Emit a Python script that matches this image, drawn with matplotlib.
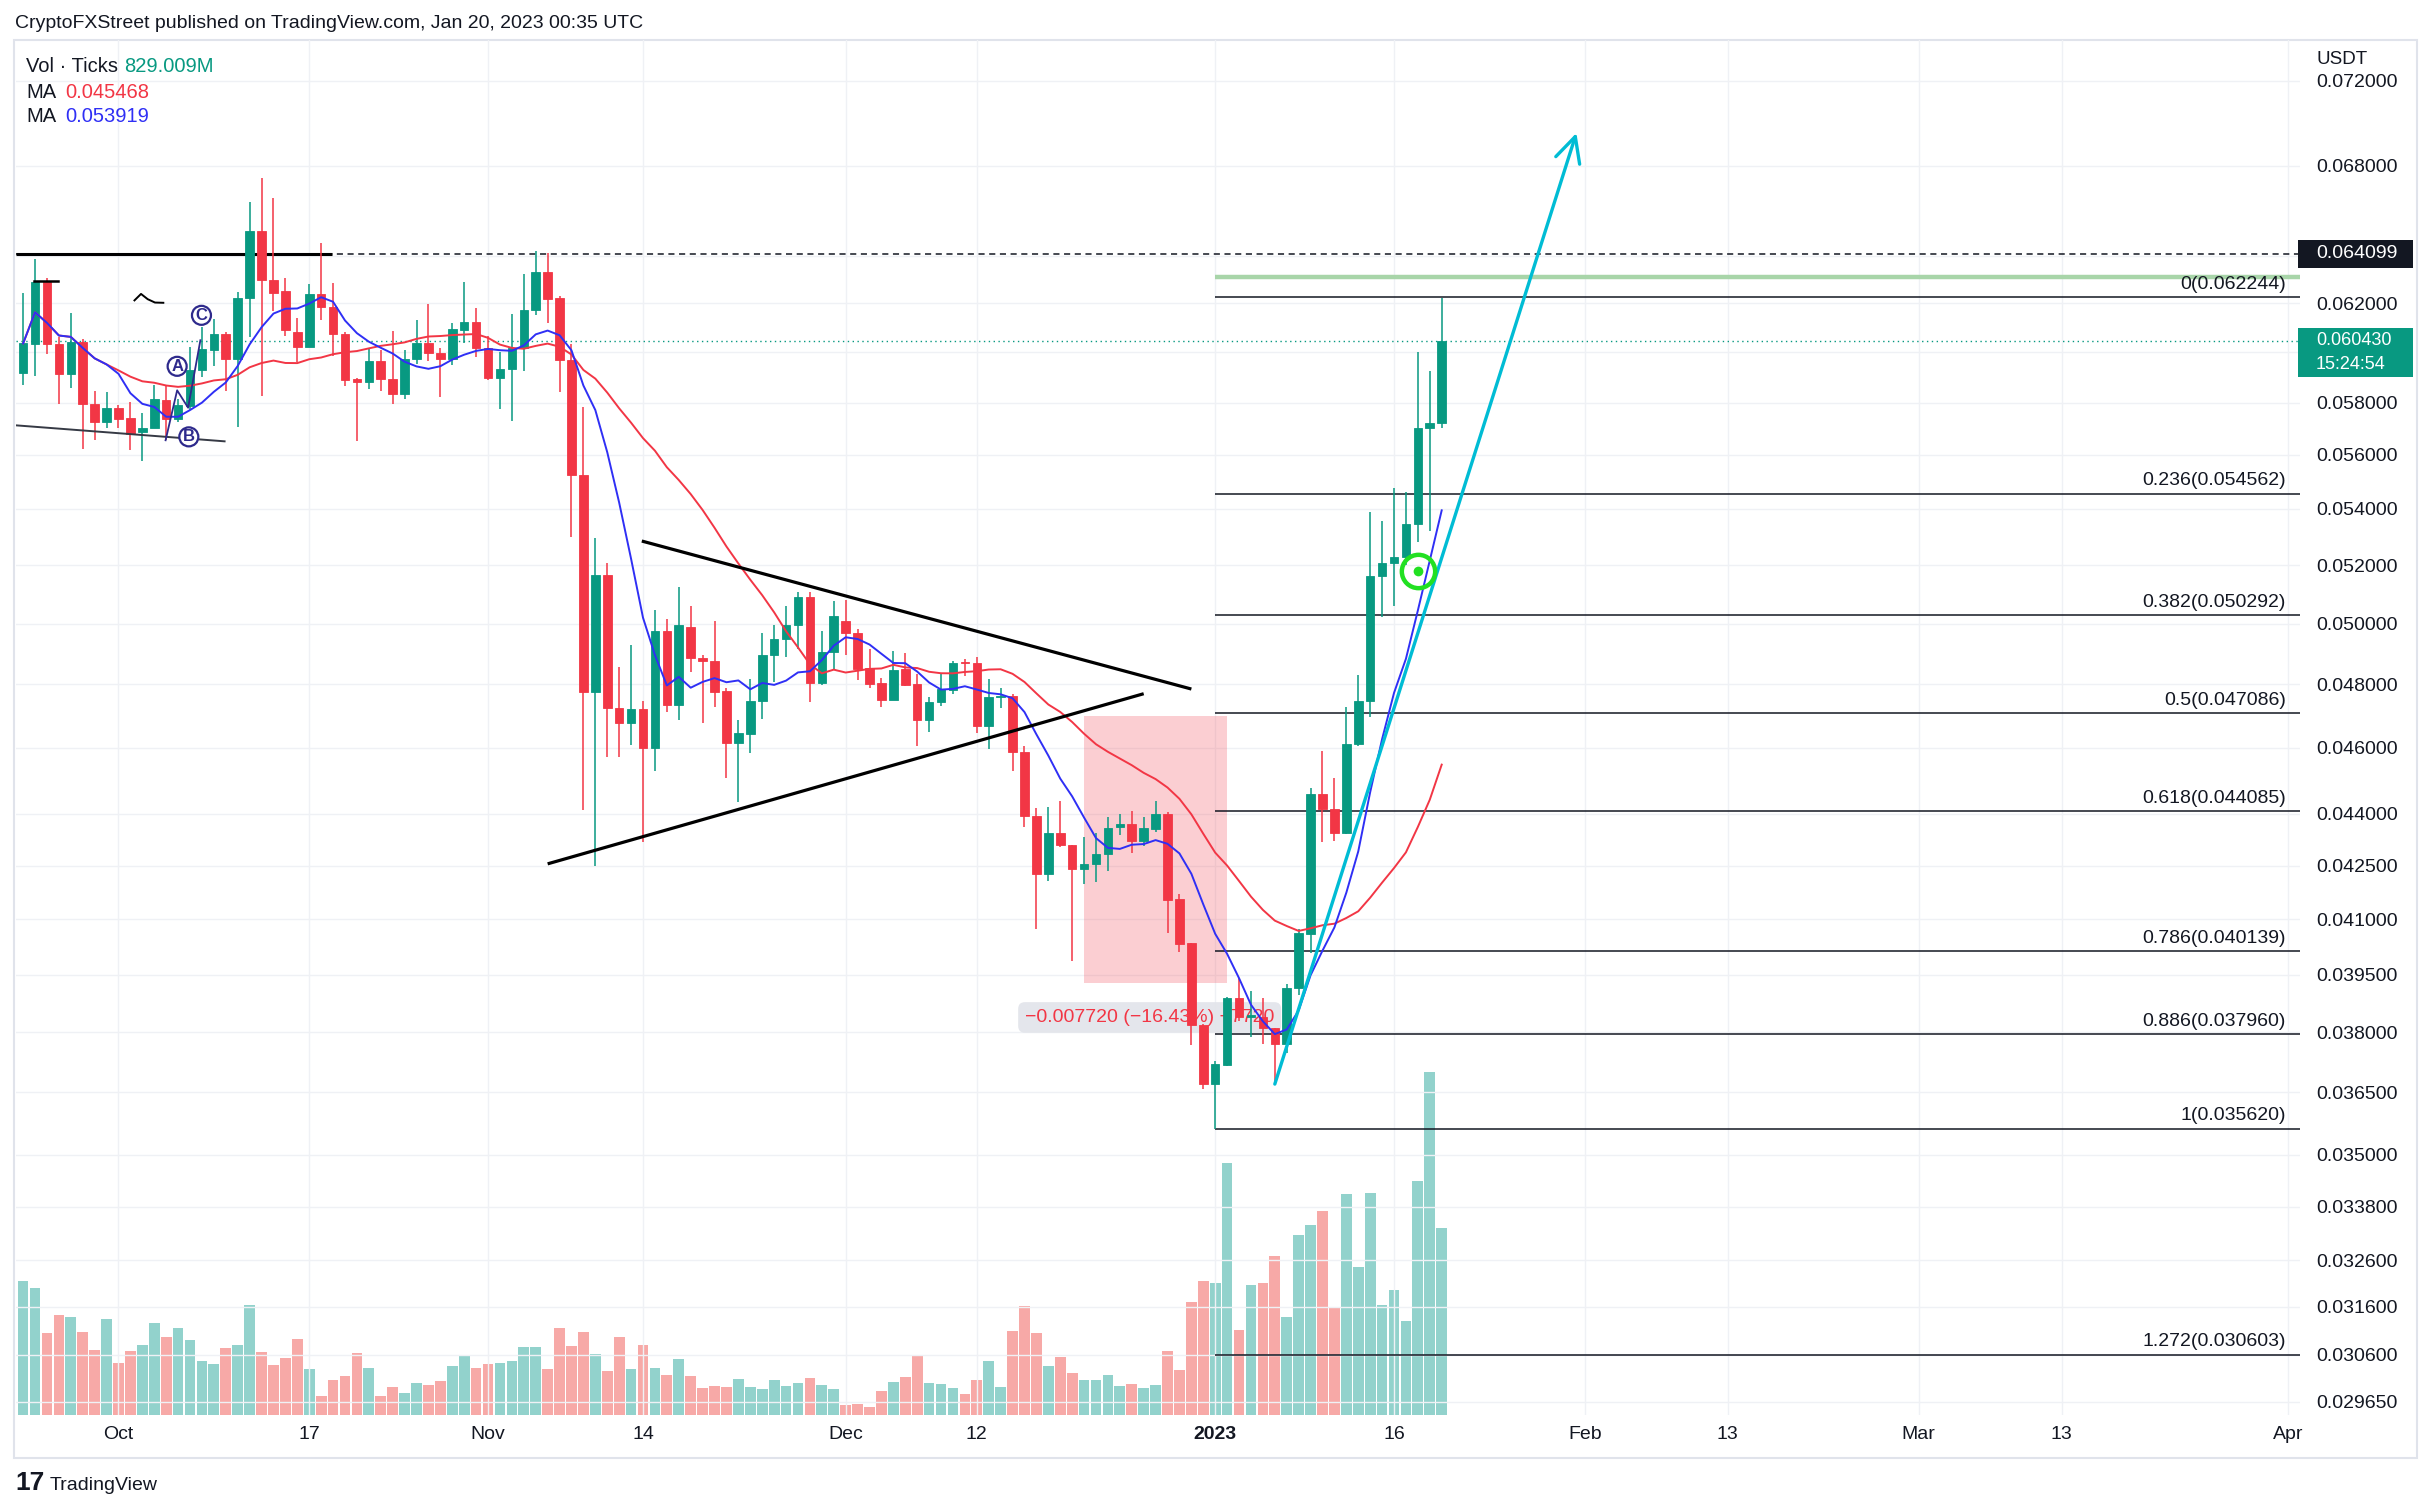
import numpy as np
import pandas as pd
import matplotlib
matplotlib.use("Agg")
import matplotlib.pyplot as plt
from matplotlib.patches import Rectangle
from matplotlib.ticker import FixedLocator, NullLocator, FuncFormatter

plt.rcParams['font.family'] = ['Liberation Sans', 'DejaVu Sans']

W, H = 2432, 1509
ORIGIN = pd.Timestamp("2022-10-01")

# daily candles, Sep 23 2022 .. Jan 20 2023
dates = pd.date_range("2022-09-23", "2023-01-20", freq="D")

opens = [0.05916, 0.06032, 0.06290, 0.06032, 0.05912, 0.06039, 0.05795, 0.05723,
         0.05780, 0.05742, 0.05687, 0.05702, 0.05811, 0.05736, 0.05787, 0.05930, 0.06008, 0.06075,
         0.05972, 0.06222, 0.06508, 0.06299, 0.06252, 0.06082, 0.06021, 0.06237, 0.06185, 0.06072,
         0.05892, 0.05881, 0.05964, 0.05894, 0.05835, 0.05974, 0.06035, 0.05995, 0.05971, 0.06088,
         0.06121,
         0.06018, 0.05898, 0.05933, 0.06015, 0.06170, 0.06330, 0.06222, 0.05969, 0.05525, 0.04775,
         0.05166, 0.04726, 0.04677, 0.04722, 0.04598, 0.04975, 0.04734, 0.04987, 0.04886, 0.04877,
         0.04778, 0.04615, 0.04643, 0.04746, 0.04897, 0.04947, 0.04996, 0.05089, 0.04804, 0.04906,
         0.05009, 0.04967, 0.04854, 0.04803, 0.04751, 0.04851, 0.04800, 0.04688, 0.04743, 0.04783,
         0.04872, 0.04870, 0.04667, 0.04759, 0.04764, 0.04586, 0.04393, 0.04226, 0.04344, 0.04308,
         0.04239, 0.04255, 0.04282, 0.04361, 0.04369, 0.04322, 0.04357, 0.04400, 0.04155, 0.04035,
         0.03819,
         0.03669, 0.03718, 0.03888, 0.03840, 0.03840, 0.03810, 0.03769, 0.03914, 0.04060, 0.04458,
         0.04415, 0.04345, 0.04613, 0.04748, 0.05161, 0.05207, 0.05228, 0.05345, 0.05702, 0.05722]
highs = [0.06241, 0.06389, 0.06308, 0.06061, 0.06160, 0.06051, 0.05845, 0.05840,
         0.05790, 0.05802, 0.05761, 0.05870, 0.05870, 0.05815, 0.06019, 0.06102, 0.06133, 0.06080,
         0.06248, 0.06637, 0.06742, 0.06656, 0.06308, 0.06140, 0.06279, 0.06454, 0.06283, 0.06082,
         0.05895, 0.06011, 0.06008, 0.06086, 0.06008, 0.06132, 0.06195, 0.06017, 0.06118, 0.06289,
         0.06179,
         0.06065, 0.05999, 0.06156, 0.06325, 0.06421, 0.06412, 0.06230, 0.06032, 0.05781, 0.05295,
         0.05209, 0.04857, 0.04927, 0.04746, 0.05047, 0.05017, 0.05125, 0.05058, 0.04897, 0.05009,
         0.04789, 0.04688, 0.04817, 0.04968, 0.04996, 0.05058, 0.05106, 0.05106, 0.04975, 0.05078,
         0.05079, 0.04983, 0.04917, 0.04819, 0.04910, 0.04903, 0.04832, 0.04759, 0.04832, 0.04875,
         0.04884, 0.04889, 0.04816, 0.04788, 0.04769, 0.04606, 0.04417, 0.04422, 0.04439, 0.04310,
         0.04331, 0.04344, 0.04391, 0.04400, 0.04410, 0.04390, 0.04439, 0.04406, 0.04169, 0.04035,
         0.03820,
         0.03727, 0.03890, 0.03941, 0.03906, 0.03889, 0.03812, 0.03924, 0.04074, 0.04477, 0.04591,
         0.04509, 0.04727, 0.04829, 0.05389, 0.05358, 0.05478, 0.05462, 0.05999, 0.05924, 0.06224]
lows = [0.05868, 0.05904, 0.05991, 0.05793, 0.05856, 0.05621, 0.05655, 0.05700,
        0.05700, 0.05617, 0.05576, 0.05700, 0.05655, 0.05723, 0.05770, 0.05901, 0.05944, 0.05845,
        0.05706, 0.06061, 0.05824, 0.06167, 0.06064, 0.05960, 0.06021, 0.06129, 0.05986, 0.05864,
        0.05651, 0.05852, 0.05844, 0.05793, 0.05813, 0.05951, 0.05963, 0.05822, 0.05949, 0.06037,
        0.05979,
        0.05890, 0.05776, 0.05730, 0.05925, 0.06153, 0.06120, 0.05843, 0.05299, 0.04412, 0.04249,
        0.04570, 0.04573, 0.04608, 0.04319, 0.04529, 0.04711, 0.04688, 0.04840, 0.04677, 0.04728,
        0.04508, 0.04436, 0.04585, 0.04690, 0.04807, 0.04890, 0.04917, 0.04742, 0.04798, 0.04850,
        0.04897, 0.04814, 0.04788, 0.04729, 0.04751, 0.04795, 0.04606, 0.04649, 0.04730, 0.04770,
        0.04828, 0.04646, 0.04597, 0.04724, 0.04528, 0.04362, 0.04073, 0.04207, 0.04304, 0.03985,
        0.04199, 0.04203, 0.04236, 0.04337, 0.04285, 0.04305, 0.04347, 0.04062, 0.04010, 0.03767,
        0.03659,
        0.03562, 0.03716, 0.03828, 0.03787, 0.03769, 0.03674, 0.03748, 0.03897, 0.04009, 0.04318,
        0.04321, 0.04342, 0.04606, 0.04697, 0.05023, 0.05059, 0.05200, 0.05282, 0.05321, 0.05702]
closes = [0.06035, 0.06290, 0.06032, 0.05912, 0.06039, 0.05793, 0.05723, 0.05780,
          0.05736, 0.05678, 0.05700, 0.05815, 0.05736, 0.05792, 0.05930, 0.06011, 0.06075, 0.05972,
          0.06224, 0.06508, 0.06297, 0.06241, 0.06089, 0.06021, 0.06237, 0.06185, 0.06072, 0.05888,
          0.05881, 0.05964, 0.05892, 0.05835, 0.05974, 0.06035, 0.05995, 0.05971, 0.06093, 0.06121,
          0.06015,
          0.05898, 0.05933, 0.06015, 0.06170, 0.06330, 0.06217, 0.05969, 0.05525, 0.04775, 0.05166,
          0.04726, 0.04677, 0.04722, 0.04598, 0.04975, 0.04734, 0.04996, 0.04886, 0.04876, 0.04775,
          0.04615, 0.04645, 0.04746, 0.04897, 0.04947, 0.04996, 0.05089, 0.04804, 0.04906, 0.05026,
          0.04969, 0.04851, 0.04801, 0.04751, 0.04848, 0.04798, 0.04688, 0.04743, 0.04785, 0.04870,
          0.04869, 0.04667, 0.04759, 0.04764, 0.04586, 0.04393, 0.04225, 0.04344, 0.04308, 0.04239,
          0.04255, 0.04284, 0.04359, 0.04369, 0.04322, 0.04359, 0.04400, 0.04153, 0.04033, 0.03819,
          0.03671,
          0.03720, 0.03888, 0.03840, 0.03843, 0.03810, 0.03771, 0.03914, 0.04062, 0.04458, 0.04415,
          0.04345, 0.04613, 0.04748, 0.05164, 0.05209, 0.05228, 0.05345, 0.05702, 0.05722, 0.06043]
# volume in millions
volume_m = [593, 562, 363, 443, 434, 367, 287, 425,
            229, 283, 309, 407, 345, 385, 332, 238, 225, 296, 309, 487, 278, 221, 252, 336, 203,
            83, 154, 172, 274, 207, 83, 123, 96, 141, 132, 149, 216, 260, 207,
            225, 229, 238, 300, 300, 203, 385, 305, 367, 269, 194, 345, 203, 309, 207, 176, 247,
            172, 118, 127, 123, 158, 123, 114, 154, 127, 141, 163, 132, 114,
            43, 47, 34, 105, 145, 167, 260, 141, 136, 118, 92, 154, 238, 123, 371, 482, 363, 216,
            256, 185, 154, 154, 176, 127, 136, 118, 132, 283, 198, 500, 593,
            585, 1117, 376, 576, 585, 704, 434, 798, 842, 904, 474, 980, 656, 984, 487, 553, 416,
            1037, 1521, 829]

fib_names = ["0", "0.236", "0.382", "0.5", "0.618", "0.786", "0.886", "1", "1.272"]
fib_prices = [0.062244, 0.054562, 0.050292, 0.047086, 0.044085, 0.040139, 0.037960, 0.035620, 0.030603]
fib_start = 92  # Jan 1

price_ticks = [0.072, 0.068, 0.064, 0.062, 0.060, 0.058, 0.056, 0.054, 0.052, 0.050, 0.048, 0.046,
               0.044, 0.0425, 0.041, 0.0395, 0.038, 0.0365, 0.035, 0.0338, 0.0326, 0.0316, 0.0306, 0.02965]
hidden_ticks = [0.064, 0.060]  # covered by the price-axis boxes
date_ticks = ["2022-10-01", "2022-10-17", "2022-11-01", "2022-11-14", "2022-12-01", "2022-12-12",
              "2023-01-01", "2023-01-16", "2023-02-01", "2023-02-13", "2023-03-01", "2023-03-13",
              "2023-04-01"]
date_labels = ["Oct", "17", "Nov", "14", "Dec", "12", "2023", "16", "Feb", "13", "Mar", "13", "Apr"]

# drawings: (day offset from Oct 1, price)
tri_upper = [(43.9, 0.05285), (90.0, 0.04785)]
tri_lower = [(36.0, 0.04255), (86.0, 0.04770)]
support_line = [(-8.6, 0.05712), (8.9, 0.05651)]
abc_path = [(3.95, 0.05655), (4.92, 0.05848), (5.84, 0.05780), (6.87, 0.06048)]
abc_labels = [("A", 4.92, 0.05943), ("B", 5.9, 0.05668), ("C", 6.96, 0.06150)]
squiggle = [(1.34, 0.06212), (1.89, 0.06239), (2.45, 0.06217), (3.06, 0.06203), (3.76, 0.06202)]
range_box = (81, 93, 0.03927, 0.04699)
range_label = (86.5, 0.03838, "\u22120.007720 (\u221216.43%) \u22127720")
arrow_from, arrow_to = (97.0, 0.03670), (122.3, 0.06951)
target = (109, 0.05181)
level_high = 0.064099
level_green = 0.0631
last_price = 0.060430

TEXT = '#131722'
GREEN, RED = '#089981', '#f23645'
VOL_UP, VOL_DN = '#92d2cc', '#f7a9a7'
BLUE = '#2f2ff5'
NAVY = '#2e2a8c'

x = (dates - ORIGIN).days.values.astype(float)
o, h, l, c = (np.array(v) for v in (opens, highs, lows, closes))
up = c >= o
cols = np.where(up, GREEN, RED)

fig = plt.figure(figsize=(W / 100, H / 100), dpi=100)
L, R, T, B = 15.5, 2300, 40, 1415
ax = fig.add_axes([L / W, 1 - B / H, (R - L) / W, (B - T) / H])
axv = ax.twinx()
ax.set_zorder(axv.get_zorder() + 1)
ax.patch.set_visible(False)

xl, xr = -8.64, 183.0
ax.set_xlim(xl, xr)
ax.set_yscale('log')
ax.set_ylim(0.029387, 0.07399)

# volume
axv.bar(x, volume_m, width=0.9, color=np.where(up, VOL_UP, VOL_DN), lw=0)
axv.set_ylim(0, 6105)
axv.set_axis_off()

# grid
ax.set_axisbelow(True)
ax.grid(True, color='#eff1f5', lw=1)

# candles
ax.vlines(x, l, h, colors=cols, lw=1.1, zorder=3)
ax.bar(x, np.abs(c - o), bottom=np.minimum(o, c), width=0.72, color=cols,
       edgecolor=cols, lw=0.6, zorder=4)

# moving averages of the closes
close_s = pd.Series(c)
ax.plot(x, close_s.rolling(21, min_periods=1).mean(), color=RED, lw=1.4, zorder=5)
ax.plot(x, close_s.rolling(8, min_periods=1).mean(), color=BLUE, lw=1.4, zorder=5)

# horizontal levels
ax.axhline(level_high, color=TEXT, lw=1.1, ls=(0, (4, 3)), zorder=2)
ax.hlines(level_high, xl, 17.9, color='black', lw=2.2, zorder=2)
ax.axhline(last_price, color=GREEN, lw=1, ls=(0, (1, 2.5)), zorder=2)
ax.hlines(level_green, fib_start, xr, color='#a8d5a9', lw=3.2, zorder=2)

# fibonacci
ax.hlines(fib_prices, fib_start, xr, color=TEXT, lw=1.1, zorder=2)
for name, p in zip(fib_names, fib_prices):
    ax.annotate(f"{name}({p:.6f})", xy=(1, p), xycoords=('axes fraction', 'data'),
                xytext=(-10, 3), textcoords='offset points', ha='right', va='bottom',
                fontsize=14, color=TEXT)

# price range
x0, x1, p0, p1 = range_box
ax.fill_between([x0, x1], p0, p1, color=RED, alpha=0.24, lw=0, zorder=1)
ax.text(range_label[0], range_label[1], range_label[2], ha='center', va='center',
        color=RED, fontsize=14, zorder=2,
        bbox=dict(boxstyle='round,pad=0.35', fc='#e2e4ea', ec='none', alpha=0.9))

# triangle and other drawings
for seg in (tri_upper, tri_lower):
    xs, ps = zip(*seg)
    ax.plot(xs, ps, color='black', lw=2.3, zorder=6, solid_capstyle='butt')
xs, ps = zip(*support_line)
ax.plot(xs, ps, color='#363a45', lw=1.4, zorder=6)
ax.plot([-7.1, -5.1], [0.06293, 0.06293], color='black', lw=1.8, zorder=6)
xs, ps = zip(*squiggle)
ax.plot(xs, ps, color='black', lw=1.4, zorder=6)
xs, ps = zip(*abc_path)
ax.plot(xs, ps, color=NAVY, lw=1.3, zorder=6)
for letter, lx, lp in abc_labels:
    ax.text(lx, lp, letter, ha='center', va='center', fontsize=12, color=NAVY,
            fontweight='bold', zorder=7,
            bbox=dict(boxstyle='circle,pad=0.12', fc='white', ec=NAVY, lw=1.6))

ax.annotate('', xy=arrow_to, xytext=arrow_from,
            arrowprops=dict(arrowstyle='->,head_length=0.9,head_width=0.45', color='#00bcd4',
                            lw=2.4, mutation_scale=20, shrinkA=0, shrinkB=0), zorder=6)
ax.plot([target[0]], [target[1]], marker='o', ms=24, mfc='none', mec='#22e022', mew=3.2, zorder=7)
ax.plot([target[0]], [target[1]], marker='o', ms=7, mfc='#22e022', mec='none', zorder=7)

# axes formatting
ax.yaxis.set_major_locator(FixedLocator(price_ticks))
ax.yaxis.set_major_formatter(FuncFormatter(
    lambda v, pos: '' if any(abs(v - t) < 1e-9 for t in hidden_ticks) else f"{v:.6f}"))
ax.yaxis.set_minor_locator(NullLocator())
ax.yaxis.tick_right()
ax.tick_params(axis='y', length=0, pad=11.5, labelsize=14, labelcolor=TEXT)
tick_x = [(pd.Timestamp(t) - ORIGIN).days for t in date_ticks]
ax.set_xticks(tick_x, date_labels)
ax.tick_params(axis='x', length=0, pad=8, labelsize=14, labelcolor=TEXT)
for lbl in ax.get_xticklabels():
    if lbl.get_text() == '2023':
        lbl.set_fontweight('bold')
for s in ax.spines.values():
    s.set_visible(False)

# price-axis labels
def fig_y(price):
    return ax.transData.transform((0, price))[1] / H

yb = fig_y(level_high)
fig.add_artist(Rectangle((2298 / W, yb - 14 / H), 115 / W, 28 / H, transform=fig.transFigure,
                         fc=TEXT, ec='none', zorder=10))
fig.text(2316 / W, yb, f"{level_high:.6f}", color='white', fontsize=14, va='center', zorder=11)
yt = fig_y(last_price)
fig.add_artist(Rectangle((2298 / W, yt - 36 / H), 115 / W, 49 / H, transform=fig.transFigure,
                         fc=GREEN, ec='none', zorder=10))
fig.text(2316 / W, yt + 1 / H, f"{last_price:.6f}", color='white', fontsize=13, va='center', zorder=11)
fig.text(2316 / W, yt - 23 / H, "15:24:54", color='white', fontsize=13, va='center', zorder=11)
fig.add_artist(Rectangle((2302 / W, 1 - 72 / H), 113 / W, 30 / H, transform=fig.transFigure,
                         fc='white', ec='none', zorder=10))
fig.text(2316 / W, 1 - 59 / H, "USDT", color=TEXT, fontsize=13.5, va='center', zorder=11)

# frame
fig.add_artist(Rectangle((14 / W, 1 - 1458 / H), (2417 - 14) / W, (1458 - 40) / H,
                         transform=fig.transFigure, fc='none', ec='#e0e3eb', lw=1.5, zorder=1))

# header, legend, footer
fig.text(15 / W, 1 - 24 / H, "CryptoFXStreet published on TradingView.com, Jan 20, 2023 00:35 UTC",
         fontsize=14, color=TEXT, va='center')
fig.text(26 / W, 1 - 66 / H, "Vol \u00b7 Ticks", fontsize=14.5, color=TEXT, va='center')
fig.text(124 / W, 1 - 66 / H, "829.009M", fontsize=14.5, color=GREEN, va='center')
fig.text(26 / W, 1 - 92 / H, "MA", fontsize=14.5, color=TEXT, va='center')
fig.text(65 / W, 1 - 92 / H, "0.045468", fontsize=14.5, color=RED, va='center')
fig.text(26 / W, 1 - 117 / H, "MA", fontsize=14.5, color=TEXT, va='center')
fig.text(65 / W, 1 - 117 / H, "0.053919", fontsize=14.5, color=BLUE, va='center')
fig.text(15 / W, 1 - 1483 / H, "17", fontsize=19, fontweight='bold', color=TEXT, va='center')
fig.text(50 / W, 1 - 1485 / H, "TradingView", fontsize=14, color=TEXT, va='center')

fig.savefig("out.png", dpi=100, facecolor='white')
